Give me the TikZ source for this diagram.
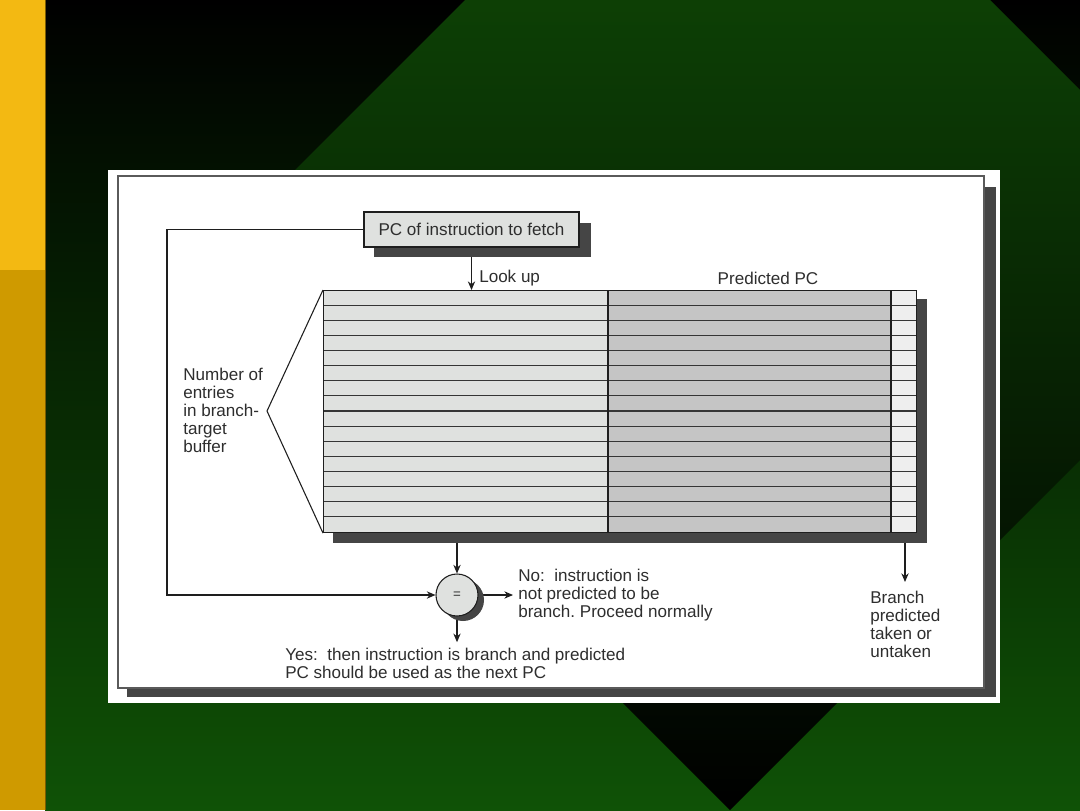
\documentclass[tikz,border=0pt]{standalone}
\usepackage{fontspec}
\setmainfont{Liberation Sans}
\usetikzlibrary{arrows.meta,calc}
\definecolor{yelA}{HTML}{F3B912}
\definecolor{yelB}{HTML}{CF9A00}
\definecolor{bggreen}{HTML}{0F5206}
\definecolor{diagreen}{HTML}{115407}
\definecolor{cellA}{HTML}{DFE1DF}
\definecolor{cellB}{HTML}{C5C5C5}
\definecolor{cellC}{HTML}{EEEEEE}
\definecolor{shadcol}{HTML}{454545}
\definecolor{linecol}{HTML}{1E1E1E}
\definecolor{txtcol}{HTML}{2E2E2E}
\definecolor{framecol}{HTML}{5A5A5A}
\pgfdeclarelayer{back}
\pgfdeclarelayer{conn}
\pgfdeclarelayer{shad}
\pgfsetlayers{back,conn,shad,main}
\frenchspacing
\begin{document}
\begin{tikzpicture}[x=0.75pt,y=-0.75pt,
  txt/.style={font=\fontsize{12.8}{13.6}\selectfont, text=txtcol, inner sep=0pt, align=left, anchor=north west},
  lbl/.style={font=\fontsize{12.8}{13.6}\selectfont, text=txtcol, inner sep=0pt},
  ln/.style={draw=linecol, line width=0.8pt},
  arr/.style={draw=linecol, line width=0.8pt, -{Stealth[length=6.5pt,width=5.5pt]}},
  rowline/.style={draw=linecol!90, line width=0.8pt},
  pcbox/.style={draw=linecol, line width=0.8pt, fill=cellA, inner sep=0pt,
    minimum width=161.25pt, minimum height=26.25pt, font=\fontsize{12.8}{13.6}\selectfont, text=txtcol},
  eqcirc/.style={circle, draw=linecol, line width=0.8pt, fill=cellA, inner sep=0pt,
    minimum size=31.5pt, font=\fontsize{10}{11}\selectfont, text=txtcol}
]
\useasboundingbox (0,0) rectangle (1080,810);
% ---------- background ----------
\begin{pgfonlayer}{back}
  \fill[yelA] (0,0) rectangle (45,270);
  \fill[yelB] (0,270) rectangle (45,810);
  \shade[top color=black, bottom color=bggreen] (45,0) rectangle (1080,810);
  \begin{scope}
    \clip (45,0) rectangle (1080,810);
    \shade[top color=diagreen, bottom color=black]
      (727.5,-262.5) -- (1265,275) -- (730,810) -- (192.5,272.5) -- cycle;
  \end{scope}
  \draw[yelB!60!black, line width=0.6pt] (45,0) -- (45,810);
  % panel
  \fill[white] (108,170) rectangle (1000,703);
  \fill[shadcol] (127,187) rectangle (996,697);
  \draw[framecol, line width=1pt, fill=white] (118,176) rectangle (984,688);
\end{pgfonlayer}

% ---------- table ----------
\fill[cellA] (323,290) rectangle (608,532);
\fill[cellB] (608,290) rectangle (891,532);
\fill[cellC] (891,290) rectangle (916,532);
\foreach \i in {1,...,15} {
  \draw[rowline] (323,{290+\i*15.125}) -- (916,{290+\i*15.125});
}
\draw[ln] (608,290) -- (608,532);
\draw[ln] (891,290) -- (891,532);
\node[draw=linecol, line width=0.8pt, inner sep=0pt, minimum width=444.75pt,
  minimum height=181.5pt, anchor=north west] (btb) at (323,290) {};
\begin{pgfonlayer}{shad}
  \fill[shadcol] (333,299) rectangle (927,543);
\end{pgfonlayer}

% ---------- nodes ----------
\node[pcbox] (pc) at (471.5,229.5) {PC of instruction to fetch};
\begin{pgfonlayer}{shad}
  \fill[shadcol] (374,223) rectangle (591,257);
\end{pgfonlayer}

\node[eqcirc] (eq) at (457,595) {=};
\begin{pgfonlayer}{shad}
  \fill[shadcol] ($(eq.center)+(6,5)$) circle[radius=15.75pt];
\end{pgfonlayer}

\node[lbl, anchor=west] (lookup) at (479,278) {Look up};
\node[lbl] (ppc) at (768,278) {Predicted PC};
\node[txt] (num) at (183,367.5) {Number of\\entries\\in branch-\\target\\buffer};
\node[txt] (no) at (518,568.5) {No:\ \ instruction is\\not predicted to be\\branch. Proceed normally};
\node[txt] (yes) at (285,647.5) {Yes:\ \ then instruction is branch and predicted\\PC should be used as the next PC};
\node[txt] (br) at (870,590.5) {Branch\\predicted\\taken or\\untaken};

\coordinate (apex) at (267,411);
\coordinate (loop) at (167,0);
\coordinate (brx) at (905,0);

% ---------- connectors ----------
\draw[ln] (btb.north west) -- (apex) -- (btb.south west);
\begin{pgfonlayer}{conn}
  \draw[arr] (pc.west) -- (pc.west -| loop) -- (eq.west -| loop) -- (eq.west);
  \draw[arr] (pc.south) -- (pc.south |- btb.north);
  \draw[arr] (eq.north |- btb.south) -- (eq.north);
  \draw[arr, shorten >=3.75pt] (eq.east) -- (eq.east -| no.west);
  \draw[arr, shorten >=4pt] (eq.south) -- (eq.south |- yes.north);
  \draw[arr, shorten >=6.4pt] (brx |- btb.south) -- (brx |- br.north);
\end{pgfonlayer}
\end{tikzpicture}
\end{document}
